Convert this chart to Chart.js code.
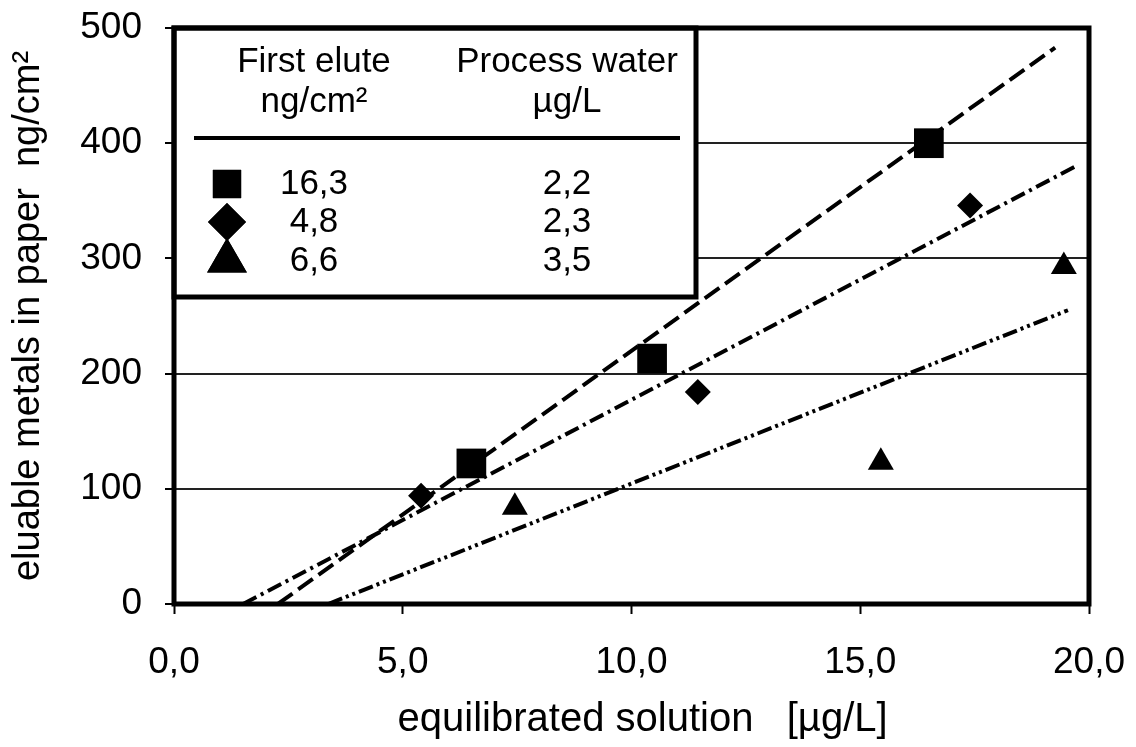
<!DOCTYPE html>
<html>
<head>
<meta charset="utf-8">
<script src="https://cdn.jsdelivr.net/npm/chart.js@4.4.1/dist/chart.umd.min.js"></script>
<style>
  body { margin: 0; background: #fff; }
</style>
</head>
<body>
<canvas id="chart" width="1136" height="747"></canvas>
<script>
// measured points
const squareX = [6.5, 10.45, 16.5];
const squareY = [122, 213, 400];
const diamondX = [5.4, 11.45, 17.4];
const diamondY = [94, 184, 346];
const triangleX = [7.45, 15.45, 19.45];
const triangleY = [84, 123, 293];

// fitted lines (start / end)
const dashX = [2.27, 19.26];
const dashY = [0, 483];
const dashDotX = [1.51, 19.76];
const dashDotY = [0, 381];
const dashDotDotX = [3.37, 19.54];
const dashDotDotY = [0, 255];

// legend table
const legendHeaders = [['First elute', 'ng/cm²'], ['Process water', 'µg/L']];
const firstElute = ['16,3', '4,8', '6,6'];
const processWater = ['2,2', '2,3', '3,5'];
const legendStyles = ['rect', 'rectRot', 'triangle'];

const FONT = "'Liberation Sans', Arial, sans-serif";

function pts(xs, ys) {
  return xs.map((x, i) => ({ x: x, y: ys[i] }));
}

function lineSet(xs, ys, dash) {
  return {
    type: 'line',
    data: pts(xs, ys),
    borderColor: '#000',
    borderWidth: 4,
    borderDash: dash,
    pointRadius: 0,
    fill: false
  };
}

function markerSet(xs, ys, style, r) {
  return {
    type: 'scatter',
    data: pts(xs, ys),
    pointStyle: style,
    pointRadius: r,
    pointHoverRadius: r,
    backgroundColor: '#000',
    borderColor: '#000',
    borderWidth: 0
  };
}

function noPad(s) {
  s.paddingTop = 0;
  s.paddingBottom = 0;
  s.paddingLeft = 0;
  s.paddingRight = 0;
}

const legendBox = {
  id: 'legendBox',
  beforeDatasetsDraw(chart) {
    const ctx = chart.ctx;
    const a = chart.chartArea;
    const x0 = a.left, y0 = a.top;
    const w = 522, h = 269;
    ctx.save();
    ctx.fillStyle = '#fff';
    ctx.fillRect(x0, y0, w, h);
    ctx.lineWidth = 5;
    ctx.strokeStyle = '#000';
    ctx.strokeRect(x0, y0, w, h);

    ctx.fillStyle = '#000';
    ctx.font = '35px ' + FONT;
    ctx.textAlign = 'center';
    ctx.textBaseline = 'middle';
    const col1 = x0 + 140, col2 = x0 + 393;
    ctx.fillText(legendHeaders[0][0], col1, y0 + 34);
    ctx.fillText(legendHeaders[0][1], col1, y0 + 74);
    ctx.fillText(legendHeaders[1][0], col2, y0 + 34);
    ctx.fillText(legendHeaders[1][1], col2, y0 + 74);

    ctx.lineWidth = 4;
    ctx.beginPath();
    ctx.moveTo(x0 + 20, y0 + 110);
    ctx.lineTo(x0 + 506, y0 + 110);
    ctx.stroke();

    const rowY = [156, 194, 233];
    const radius = [20, 19, 23];
    rowY.forEach((ry, i) => {
      Chart.helpers.drawPoint(ctx, {
        pointStyle: legendStyles[i], radius: radius[i], rotation: 0, borderWidth: 0
      }, x0 + 53, y0 + ry);
      ctx.fill();
      ctx.fillText(firstElute[i], col1, y0 + ry);
      ctx.fillText(processWater[i], col2, y0 + ry);
    });
    ctx.restore();
  },
  afterDatasetsDraw(chart) {
    const ctx = chart.ctx;
    const a = chart.chartArea;
    ctx.save();
    ctx.lineWidth = 5;
    ctx.strokeStyle = '#000';
    ctx.strokeRect(a.left, a.top, a.right - a.left, a.bottom - a.top);
    ctx.restore();
  }
};

new Chart(document.getElementById('chart'), {
  type: 'scatter',
  data: {
    datasets: [
      lineSet(dashX, dashY, [18, 7]),
      lineSet(dashDotX, dashDotY, [15, 5, 3, 5]),
      lineSet(dashDotDotX, dashDotDotY, [15, 4, 3, 4, 3, 4]),
      markerSet(squareX, squareY, 'rect', 21),
      markerSet(diamondX, diamondY, 'rectRot', 13),
      markerSet(triangleX, triangleY, 'triangle', 15)
    ]
  },
  options: {
    responsive: false,
    animation: false,
    layout: { padding: { top: 28, right: 47, left: 0, bottom: 0 } },
    plugins: {
      legend: { display: false },
      tooltip: { enabled: false }
    },
    scales: {
      x: {
        type: 'linear',
        min: 0,
        max: 20,
        afterFit: s => { s.height = 143; noPad(s); },
        ticks: {
          stepSize: 5,
          color: '#000',
          padding: 27,
          font: { family: FONT, size: 37 },
          callback: v => v.toFixed(1).replace('.', ',')
        },
        grid: {
          drawOnChartArea: false,
          tickLength: 10,
          tickWidth: 2,
          tickColor: '#000'
        },
        border: { display: false },
        title: {
          display: true,
          text: '  equilibrated solution   [µg/L]',
          color: '#000',
          font: { family: FONT, size: 40 },
          padding: { top: 0, bottom: 3 }
        }
      },
      y: {
        min: 0,
        max: 500,
        afterFit: s => { s.width = 174; noPad(s); },
        ticks: {
          stepSize: 100,
          color: '#000',
          padding: 23,
          font: { family: FONT, size: 37 }
        },
        grid: {
          color: '#222',
          lineWidth: 2,
          tickLength: 9,
          tickWidth: 2,
          tickColor: '#000'
        },
        border: { display: false },
        title: {
          display: true,
          text: 'eluable metals in paper  ng/cm²',
          color: '#000',
          font: { family: FONT, size: 38 },
          padding: { top: 6, bottom: 0 }
        }
      }
    }
  },
  plugins: [legendBox]
});
</script>
</body>
</html>
